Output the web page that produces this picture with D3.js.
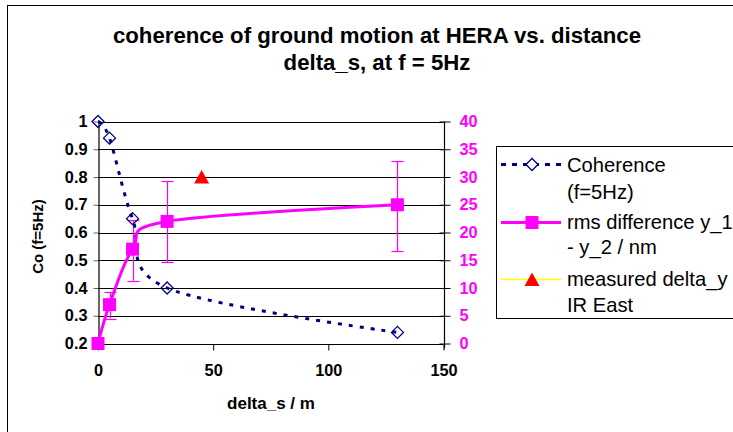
<!DOCTYPE html>
<html><head><meta charset="utf-8">
<script src="https://cdn.jsdelivr.net/npm/d3@7"></script>
<style>html,body{margin:0;padding:0;background:#fff;}svg{display:block;font-family:"Liberation Sans",Arial,sans-serif;}</style>
</head><body><svg id="c" width="733" height="432"></svg>
<script>
const titleLines = ["coherence of ground motion at HERA vs. distance", "delta_s, at f = 5Hz"];
const xTitle = "delta_s / m";
const yTitle = "Co (f=5Hz)";
const xTicks = [0, 50, 100, 150];
const yLeftTicks = [0.2, 0.3, 0.4, 0.5, 0.6, 0.7, 0.8, 0.9, 1];
const yRightTicks = [0, 5, 10, 15, 20, 25, 30, 35, 40];
const cohX = [0, 5, 15, 30, 130];
const cohY = [1.0, 0.94, 0.65, 0.40, 0.24];
const rmsX = [0, 5, 15, 30, 130];
const rmsY = [0, 7, 17, 22, 25];
const rmsLow = [0, 4.5, 11.3, 14.6, 16.6];
const rmsHigh = [0, 9.2, 22.2, 29.2, 32.8];
const measX = [45];
const measY = [30];
const legendLabels = [["Coherence", "(f=5Hz)"], ["rms difference y_1", "- y_2 / nm"], ["measured delta_y", "IR East"]];

const svg = d3.select("#c");
const NAVY = "#000080", MAG = "#FF00FF", RED = "#FF0000", YEL = "#FFFF00";
const x = d3.scaleLinear().domain([0, 150]).range([98, 443.5]);
const yL = d3.scaleLinear().domain([0.2, 1]).range([343.5, 121.5]);
const yR = d3.scaleLinear().domain([0, 40]).range([343.5, 121.5]);

// outer frame
svg.append("rect").attr("x", 7.5).attr("y", 5.5).attr("width", 740).attr("height", 440)
  .attr("fill", "#fff").attr("stroke", "#000").attr("stroke-width", 1);

// title
svg.append("g").selectAll("text").data(titleLines).join("text")
  .attr("x", 377).attr("y", (d, i) => 43 + i * 26.5).attr("text-anchor", "middle")
  .attr("font-size", 22.2).attr("font-weight", "bold").attr("fill", "#000").text(d => d);

// gridlines
svg.append("g").selectAll("line").data(yLeftTicks.filter(v => v > 0.2)).join("line")
  .attr("x1", x(0)).attr("x2", x(150)).attr("y1", d => Math.round(yL(d)) + 0.5).attr("y2", d => Math.round(yL(d)) + 0.5)
  .attr("stroke", "#000").attr("stroke-width", 1);

// axes
const ax = svg.append("g").attr("transform", `translate(0,${Math.round(yL(0.2)) + 0.5})`)
  .call(d3.axisBottom(x).tickValues(xTicks).tickSize(6).tickSizeOuter(0).tickPadding(14).tickFormat(d3.format("d")));
const ayl = svg.append("g").attr("transform", `translate(${Math.round(x(0)) + 0.5},0)`)
  .call(d3.axisLeft(yL).tickValues(yLeftTicks).tickSize(5).tickSizeOuter(0).tickPadding(6).tickFormat(d => d === 1 ? "1" : d3.format(".1f")(d)));
const ayr = svg.append("g").attr("transform", `translate(${Math.round(x(150)) + 0.5},0)`)
  .call(d3.axisRight(yR).tickValues(yRightTicks).tickSize(6).tickSizeOuter(0).tickPadding(9));
ayr.selectAll(".tick line").attr("x1", -5);
[ax, ayl, ayr].forEach(g => {
  g.select(".domain").attr("stroke", "#000").attr("stroke-width", 1.2);
  g.selectAll(".tick line").attr("stroke", "#000");
  g.selectAll("text").attr("font-family", "Liberation Sans, Arial, sans-serif").attr("font-size", 16.3).attr("font-weight", "bold").attr("fill", "#000");
});
ayr.selectAll("text").attr("fill", MAG);
ayl.selectAll(".tick line").attr("stroke-opacity", 0.6);
ayr.select(".domain").attr("d", `M0,${yR(40)}V${yR(0) + 5}`);
ax.select(".domain").attr("d", `M${x(0)},0H${x(150)}`);

// axis titles
svg.append("text").attr("x", 271).attr("y", 409).attr("text-anchor", "middle")
  .attr("font-size", 17).attr("font-weight", "bold").text(xTitle);
svg.append("text").attr("transform", "translate(43,236.5) rotate(-90)").attr("text-anchor", "middle")
  .attr("font-size", 15).attr("font-weight", "bold").text(yTitle);

// rms error bars
const eb = svg.append("g");
rmsX.forEach((xv, i) => {
  if (rmsHigh[i] === rmsLow[i]) return;
  const cx = Math.round(x(xv)) + 0.5;
  eb.append("line").attr("x1", cx).attr("x2", cx).attr("y1", yR(rmsLow[i])).attr("y2", yR(rmsHigh[i]))
    .attr("stroke", MAG).attr("stroke-width", 1.2);
  [rmsLow[i], rmsHigh[i]].forEach(v => eb.append("line").attr("x1", cx - 6).attr("x2", cx + 6)
    .attr("y1", Math.round(yR(v)) + 0.5).attr("y2", Math.round(yR(v)) + 0.5)
    .attr("stroke", MAG).attr("stroke-width", 1.2));
});

// coherence line
const cohPts = cohX.map((v, i) => [x(v), yL(cohY[i])]);
svg.append("path").attr("d", d3.line().curve(d3.curveCardinal.tension(0))(cohPts))
  .attr("fill", "none").attr("stroke", NAVY).attr("stroke-width", 3).attr("stroke-dasharray", "4,7");
svg.append("g").selectAll("path").data(cohPts).join("path")
  .attr("d", d => `M${d[0]},${d[1] - 6}L${d[0] + 6},${d[1]}L${d[0]},${d[1] + 6}L${d[0] - 6},${d[1]}Z`)
  .attr("fill", "none").attr("stroke", NAVY).attr("stroke-width", 1.3);

// rms line
const rmsPts = rmsX.map((v, i) => [x(v), yR(rmsY[i])]);
svg.append("path").attr("d", d3.line().curve(d3.curveCardinal.tension(0))(rmsPts))
  .attr("fill", "none").attr("stroke", MAG).attr("stroke-width", 3);
svg.append("g").selectAll("rect").data(rmsPts).join("rect")
  .attr("x", d => d[0] - 6.5).attr("y", d => d[1] - 6.5).attr("width", 13).attr("height", 13).attr("fill", MAG);

// measured triangle
const tri = (cx, cy) => `M${cx},${cy - 7}L${cx + 7.5},${cy + 6.5}L${cx - 7.5},${cy + 6.5}Z`;
svg.append("g").selectAll("path").data(measX.map((v, i) => [x(v), yR(measY[i])])).join("path")
  .attr("d", d => tri(d[0], d[1])).attr("fill", RED);

// legend
const lg = svg.append("g");
lg.append("rect").attr("x", 496.5).attr("y", 146.5).attr("width", 260).attr("height", 172)
  .attr("fill", "#fff").attr("stroke", "#000").attr("stroke-width", 1);
const symY = [164.5, 222.5, 279.5];
const baseY = [[172, 198.5], [228.5, 253.5], [286, 311.5]];
legendLabels.forEach((lines, i) => {
  lines.forEach((t, j) => lg.append("text").attr("x", 567).attr("y", baseY[i][j])
    .attr("font-size", 20.2).attr("fill", "#000").text(t));
});
lg.append("line").attr("x1", 501).attr("x2", 561).attr("y1", symY[0]).attr("y2", symY[0])
  .attr("stroke", NAVY).attr("stroke-width", 3).attr("stroke-dasharray", "5,6");
lg.append("path").attr("d", `M532,${symY[0] - 6}L538,${symY[0]}L532,${symY[0] + 6}L526,${symY[0]}Z`)
  .attr("fill", "#fff").attr("stroke", NAVY).attr("stroke-width", 1.3);
lg.append("line").attr("x1", 501).attr("x2", 561).attr("y1", symY[1]).attr("y2", symY[1])
  .attr("stroke", MAG).attr("stroke-width", 3);
lg.append("rect").attr("x", 532 - 6.5).attr("y", symY[1] - 6.5).attr("width", 13).attr("height", 13).attr("fill", MAG);
lg.append("line").attr("x1", 501).attr("x2", 561).attr("y1", symY[2]).attr("y2", symY[2])
  .attr("stroke", YEL).attr("stroke-width", 1.5);
lg.append("path").attr("d", tri(532, symY[2])).attr("fill", RED);
</script></body></html>
